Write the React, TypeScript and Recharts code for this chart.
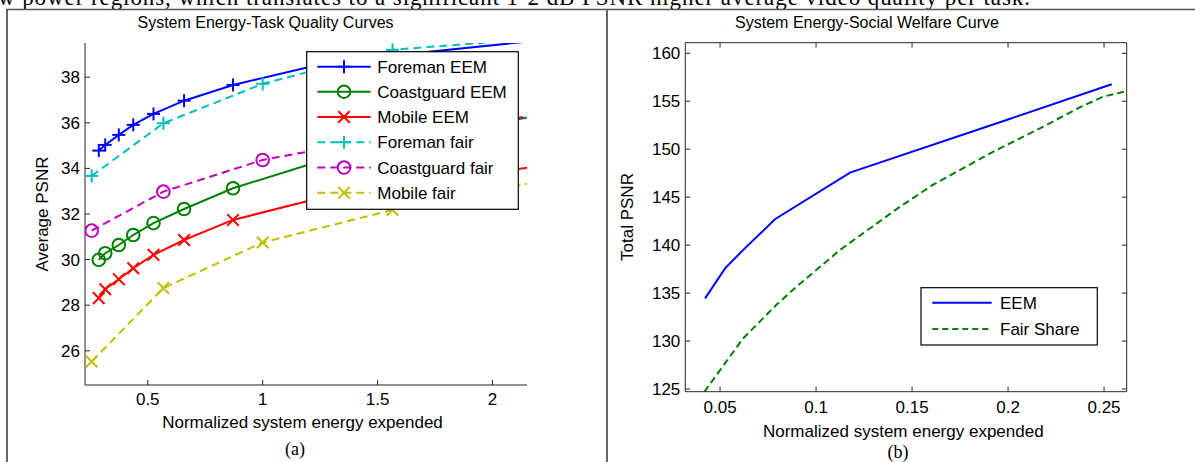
import React from 'react';
import { LineChart, Line, XAxis, YAxis } from 'recharts';

// ---------- Data: panel (a) ----------
const eemEnergy = [0.287, 0.315, 0.374, 0.437, 0.525, 0.658, 0.871, 1.3, 2.2];
const foremanEem = [34.78, 35.03, 35.47, 35.91, 36.39, 36.97, 37.66, 38.68, 39.61];
const coastguardEem = [29.99, 30.28, 30.64, 31.08, 31.6, 32.22, 33.13, 34.48, 36.34];
const mobileEem = [28.31, 28.7, 29.14, 29.62, 30.21, 30.86, 31.74, 32.83, 34.1];

const fairEnergy = [0.256, 0.568, 1.0, 1.565, 2.2];
const foremanFair = [33.67, 35.98, 37.71, 39.2, 39.7];
const coastguardFair = [31.27, 32.98, 34.37, 35.42, 36.35];
const mobileFair = [25.53, 28.75, 30.75, 32.18, 33.42];

const aXTicks = [0.5, 1, 1.5, 2];
const aYTicks = [26, 28, 30, 32, 34, 36, 38];

// ---------- Data: panel (b) ----------
const welfareEemEnergy = [0.0422, 0.0526, 0.0621, 0.0786, 0.1177, 0.2, 0.254];
const welfareEem = [134.45, 137.58, 139.5, 142.7, 147.56, 153.1, 156.77];
const welfareFairEnergy = [0.0418, 0.0621, 0.0795, 0.09, 0.1125, 0.1437, 0.161, 0.1924, 0.2184, 0.2375, 0.2496, 0.265];
const welfareFair = [124.7, 130.3, 133.8, 135.7, 139.5, 144.0, 146.3, 149.75, 152.35, 154.37, 155.48, 156.2];

const bXTicks = [0.05, 0.1, 0.15, 0.2, 0.25];
const bYTicks = [125, 130, 135, 140, 145, 150, 155, 160];

const legendA = ['Foreman EEM', 'Coastguard EEM', 'Mobile EEM', 'Foreman fair', 'Coastguard fair', 'Mobile fair'];
const legendB = ['EEM', 'Fair Share'];

const topText = 'w power regions, which translates to a significant 1-2 dB PSNR higher average video quality per task.';

const toPts = (xs: number[], ys: number[]) => xs.map((x, i) => ({ x, y: ys[i] }));

const BLUE = '#0000ff';
const GREEN = '#008000';
const RED = '#ff0000';
const CYAN = '#00bfbf';
const MAGENTA = '#bf00bf';
const YELLOW = '#bfbf00';
const AXIS = '#262626';
const SANS = '"Liberation Sans", Arial, Helvetica, sans-serif';
const SERIF = '"Liberation Serif", "Times New Roman", serif';

type MarkerKind = 'plus' | 'circle' | 'x';

const drawMarker = (kind: MarkerKind, color: string, cx: number, cy: number, key?: string) => {
  if (kind === 'plus') {
    const s = 6.5;
    return (
      <g key={key}>
        <line x1={cx - s} y1={cy} x2={cx + s} y2={cy} stroke={color} strokeWidth={2} />
        <line x1={cx} y1={cy - s} x2={cx} y2={cy + s} stroke={color} strokeWidth={2} />
      </g>
    );
  }
  if (kind === 'circle') {
    return <circle key={key} cx={cx} cy={cy} r={6.3} stroke={color} strokeWidth={2} fill="none" />;
  }
  const s = 5.8;
  return (
    <g key={key}>
      <line x1={cx - s} y1={cy - s} x2={cx + s} y2={cy + s} stroke={color} strokeWidth={2} />
      <line x1={cx - s} y1={cy + s} x2={cx + s} y2={cy - s} stroke={color} strokeWidth={2} />
    </g>
  );
};

const markerDot = (kind: MarkerKind, color: string) => (props: any) => {
  const { cx, cy, index } = props;
  const key = `m-${kind}-${color}-${index}`;
  if (cx == null || cy == null || isNaN(cx) || isNaN(cy)) return <g key={key} />;
  return drawMarker(kind, color, cx, cy, key);
};

const tickStyle = { fill: '#000', fontSize: 17, fontFamily: SANS };

const seriesA = [
  { name: legendA[0], xs: eemEnergy, ys: foremanEem, color: BLUE, dash: undefined, marker: 'plus' as MarkerKind },
  { name: legendA[1], xs: eemEnergy, ys: coastguardEem, color: GREEN, dash: undefined, marker: 'circle' as MarkerKind },
  { name: legendA[2], xs: eemEnergy, ys: mobileEem, color: RED, dash: undefined, marker: 'x' as MarkerKind },
  { name: legendA[3], xs: fairEnergy, ys: foremanFair, color: CYAN, dash: '8 5', marker: 'plus' as MarkerKind },
  { name: legendA[4], xs: fairEnergy, ys: coastguardFair, color: MAGENTA, dash: '8 5', marker: 'circle' as MarkerKind },
  { name: legendA[5], xs: fairEnergy, ys: mobileFair, color: YELLOW, dash: '8 5', marker: 'x' as MarkerKind },
];

const ChartA = () => (
  <LineChart width={600} height={462} margin={{ top: 43, right: 73, left: 0, bottom: 47 }}>
    <XAxis
      type="number"
      dataKey="x"
      domain={[0.227, 2.15]}
      allowDataOverflow
      ticks={aXTicks}
      interval={0}
      tickSize={-5}
      tickMargin={13}
      height={30}
      stroke={AXIS}
      tick={tickStyle}
    />
    <YAxis
      type="number"
      dataKey="y"
      domain={[24.5, 39.5]}
      allowDataOverflow
      ticks={aYTicks}
      interval={0}
      tickSize={-5}
      tickMargin={10}
      width={85}
      stroke={AXIS}
      tick={tickStyle}
    />
    {seriesA.map((s) => (
      <Line
        key={s.name}
        data={toPts(s.xs, s.ys)}
        dataKey="y"
        type="linear"
        stroke={s.color}
        strokeWidth={2}
        strokeDasharray={s.dash}
        dot={markerDot(s.marker, s.color)}
        activeDot={false}
        isAnimationActive={false}
      />
    ))}
  </LineChart>
);

const ChartB = () => (
  <LineChart width={595} height={462} margin={{ top: 32.7, right: 58.3, left: 0, bottom: 40.3 }}>
    <XAxis
      xAxisId="b"
      orientation="bottom"
      type="number"
      dataKey="x"
      domain={[0.0319, 0.2618]}
      allowDataOverflow
      ticks={bXTicks}
      interval={0}
      tickSize={-5}
      tickMargin={14}
      height={30}
      stroke={AXIS}
      tick={tickStyle}
    />
    <XAxis
      xAxisId="t"
      orientation="top"
      type="number"
      dataKey="x"
      domain={[0.0319, 0.2618]}
      allowDataOverflow
      ticks={bXTicks}
      interval={0}
      tickSize={-5}
      tickFormatter={() => ''}
      height={10}
      stroke={AXIS}
      tick={tickStyle}
    />
    <YAxis
      yAxisId="l"
      orientation="left"
      type="number"
      dataKey="y"
      domain={[124.72, 161.1]}
      allowDataOverflow
      ticks={bYTicks}
      interval={0}
      tickSize={-5}
      tickMargin={10}
      width={85.3}
      stroke={AXIS}
      tick={tickStyle}
    />
    <YAxis
      yAxisId="r"
      orientation="right"
      type="number"
      dataKey="y"
      domain={[124.72, 161.1]}
      allowDataOverflow
      ticks={bYTicks}
      interval={0}
      tickSize={-5}
      tickFormatter={() => ''}
      width={10}
      stroke={AXIS}
      tick={tickStyle}
    />
    <Line
      xAxisId="b"
      yAxisId="l"
      data={toPts(welfareEemEnergy, welfareEem)}
      dataKey="y"
      type="linear"
      stroke={BLUE}
      strokeWidth={2}
      dot={false}
      activeDot={false}
      isAnimationActive={false}
    />
    <Line
      xAxisId="b"
      yAxisId="l"
      data={toPts(welfareFairEnergy, welfareFair)}
      dataKey="y"
      type="linear"
      stroke={GREEN}
      strokeWidth={2}
      strokeDasharray="7 4"
      dot={false}
      activeDot={false}
      isAnimationActive={false}
    />
  </LineChart>
);

const Overlay = () => {
  const rowsA = [66.7, 91.7, 116.9, 142.2, 167.5, 192.7];
  const rowsB = [302.7, 329];
  return (
    <svg width={1195} height={462} style={{ position: 'absolute', left: 0, top: 0, pointerEvents: 'none' }}>
      {/* cut-off caption text above the figure */}
      <text x={-2} y={4.5} fontFamily={SERIF} fontSize={23} fill="#000" textLength={1032} lengthAdjust="spacing">
        {topText}
      </text>
      {/* frame */}
      <line x1={6} y1={9.5} x2={1195} y2={9.5} stroke="#555" strokeWidth={1.5} />
      <line x1={7} y1={9} x2={7} y2={462} stroke="#555" strokeWidth={1.8} />
      <line x1={607} y1={9} x2={607} y2={462} stroke="#555" strokeWidth={1.8} />

      {/* titles */}
      <text x={265.5} y={28} textAnchor="middle" fontFamily={SANS} fontSize={16} fill="#000">
        System Energy-Task Quality Curves
      </text>
      <text x={867} y={28} textAnchor="middle" fontFamily={SANS} fontSize={16} fill="#000">
        System Energy-Social Welfare Curve
      </text>

      {/* axis labels */}
      <text x={302.5} y={428.3} textAnchor="middle" fontFamily={SANS} fontSize={17} fill="#000">
        Normalized system energy expended
      </text>
      <text x={903.3} y={436.7} textAnchor="middle" fontFamily={SANS} fontSize={17} fill="#000">
        Normalized system energy expended
      </text>
      <text
        x={0}
        y={0}
        transform="translate(47.5,214) rotate(-90)"
        textAnchor="middle"
        fontFamily={SANS}
        fontSize={17}
        fill="#000"
      >
        Average PSNR
      </text>
      <text
        x={0}
        y={0}
        transform="translate(632.5,217) rotate(-90)"
        textAnchor="middle"
        fontFamily={SANS}
        fontSize={17}
        fill="#000"
      >
        Total PSNR
      </text>

      {/* sub-captions */}
      <text x={295} y={455} textAnchor="middle" fontFamily={SERIF} fontSize={18} fill="#000">
        (a)
      </text>
      <text x={898} y={458} textAnchor="middle" fontFamily={SERIF} fontSize={18} fill="#000">
        (b)
      </text>

      {/* legend (a) */}
      <rect x={306.7} y={51.7} width={211.6} height={157.6} fill="#fff" stroke="#000" strokeWidth={1.2} />
      {seriesA.map((s, i) => (
        <g key={s.name}>
          <line
            x1={317.3}
            y1={rowsA[i]}
            x2={370.7}
            y2={rowsA[i]}
            stroke={s.color}
            strokeWidth={2}
            strokeDasharray={s.dash}
          />
          {drawMarker(s.marker, s.color, 344, rowsA[i])}
          <text x={377.3} y={rowsA[i] + 6} fontFamily={SANS} fontSize={17} fill="#000">
            {s.name}
          </text>
        </g>
      ))}

      {/* legend (b) */}
      <rect x={921} y={287.7} width={176.3} height={57.3} fill="#fff" stroke="#000" strokeWidth={1.2} />
      <line x1={932.3} y1={rowsB[0]} x2={991.7} y2={rowsB[0]} stroke={BLUE} strokeWidth={2} />
      <text x={1000} y={rowsB[0] + 6} fontFamily={SANS} fontSize={17} fill="#000">
        {legendB[0]}
      </text>
      <line x1={932.3} y1={rowsB[1]} x2={991.7} y2={rowsB[1]} stroke={GREEN} strokeWidth={2} strokeDasharray="6 4" />
      <text x={1000} y={rowsB[1] + 6} fontFamily={SANS} fontSize={17} fill="#000">
        {legendB[1]}
      </text>
    </svg>
  );
};

export default function App() {
  return (
    <div style={{ position: 'absolute', left: 0, top: 0, width: 1195, height: 462, background: '#fff', overflow: 'hidden' }}>
      <div style={{ position: 'absolute', left: 0, top: 0 }}>
        <ChartA />
      </div>
      <div style={{ position: 'absolute', left: 600, top: 0 }}>
        <ChartB />
      </div>
      <Overlay />
    </div>
  );
}
